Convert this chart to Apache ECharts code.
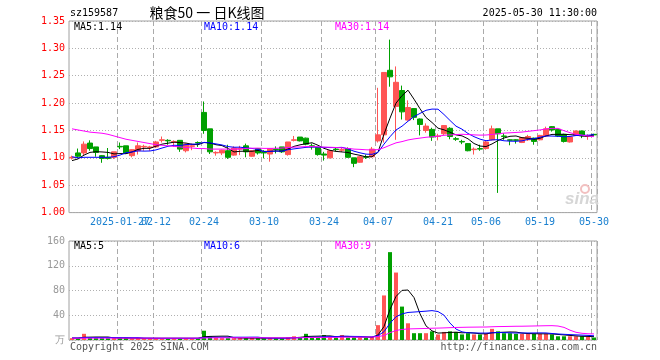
<!DOCTYPE html>
<html><head><meta charset="utf-8">
<script src="https://cdn.jsdelivr.net/npm/echarts@6/dist/echarts.min.js"></script>
<style>html,body{margin:0;padding:0;background:#fff}#c{width:660px;height:360px}</style>
</head><body><div id="c"></div>
<script>
const dates = ['2025-01-15','2025-01-16','2025-01-17','2025-01-20','2025-01-21','2025-01-22','2025-01-23','2025-01-24','2025-01-27',
'2025-02-05','2025-02-06','2025-02-07','2025-02-10','2025-02-11','2025-02-12','2025-02-13','2025-02-14','2025-02-17','2025-02-18','2025-02-19','2025-02-20','2025-02-21','2025-02-24','2025-02-25','2025-02-26','2025-02-27','2025-02-28',
'2025-03-03','2025-03-04','2025-03-05','2025-03-06','2025-03-07','2025-03-10','2025-03-11','2025-03-12','2025-03-13','2025-03-14','2025-03-17','2025-03-18','2025-03-19','2025-03-20','2025-03-21','2025-03-24','2025-03-25','2025-03-26','2025-03-27','2025-03-28','2025-03-31',
'2025-04-01','2025-04-02','2025-04-03','2025-04-07','2025-04-08','2025-04-09','2025-04-10','2025-04-11','2025-04-14','2025-04-15','2025-04-16','2025-04-17','2025-04-18','2025-04-21','2025-04-22','2025-04-23','2025-04-24','2025-04-25','2025-04-28','2025-04-29','2025-04-30',
'2025-05-06','2025-05-07','2025-05-08','2025-05-09','2025-05-12','2025-05-13','2025-05-14','2025-05-15','2025-05-16','2025-05-19','2025-05-20','2025-05-21','2025-05-22','2025-05-23','2025-05-26','2025-05-27','2025-05-28','2025-05-29','2025-05-30'];

const opens = [1.100,1.109,1.109,1.127,1.120,1.104,1.101,1.101,1.121,1.122,
1.104,1.113,1.120,1.119,1.120,1.132,1.132,1.129,1.132,1.113,
1.121,1.128,1.183,1.153,1.109,1.109,1.113,1.105,1.116,1.122,
1.103,1.117,1.110,1.107,1.116,1.120,1.106,1.132,1.138,1.136,
1.122,1.119,1.107,1.100,1.116,1.114,1.117,1.100,1.092,1.102,
1.102,1.131,1.142,1.260,1.194,1.223,1.169,1.190,1.171,1.150,
1.152,1.139,1.144,1.154,1.135,1.130,1.126,1.115,1.117,1.117,
1.133,1.153,1.140,1.133,1.133,1.128,1.133,1.136,1.133,1.140,
1.157,1.152,1.143,1.129,1.141,1.149,1.139,1.143];

const closes = [1.101,1.103,1.125,1.117,1.110,1.099,1.099,1.111,1.120,1.109,
1.115,1.122,1.121,1.120,1.129,1.133,1.131,1.130,1.116,1.125,
1.122,1.127,1.150,1.111,1.110,1.114,1.101,1.118,1.117,1.111,
1.113,1.109,1.109,1.117,1.115,1.111,1.129,1.133,1.131,1.125,
1.120,1.106,1.105,1.113,1.115,1.115,1.101,1.090,1.102,1.101,
1.116,1.142,1.256,1.248,1.238,1.184,1.192,1.174,1.161,1.158,
1.138,1.140,1.159,1.139,1.134,1.129,1.113,1.116,1.116,1.129,
1.153,1.144,1.139,1.132,1.132,1.137,1.139,1.130,1.141,1.153,
1.151,1.140,1.130,1.138,1.149,1.141,1.140,1.142];

const lows = [1.097,1.099,1.105,1.113,1.102,1.091,1.097,1.098,1.116,1.107,
1.101,1.106,1.113,1.113,1.118,1.128,1.124,1.120,1.111,1.110,
1.114,1.120,1.144,1.107,1.104,1.105,1.098,1.104,1.105,1.101,
1.102,1.106,1.099,1.093,1.108,1.109,1.104,1.130,1.130,1.123,
1.115,1.104,1.095,1.099,1.112,1.111,1.100,1.083,1.091,1.098,
1.101,1.128,1.128,1.230,1.133,1.170,1.168,1.169,1.141,1.146,
1.131,1.132,1.142,1.134,1.131,1.125,1.112,1.106,1.113,1.115,
1.132,1.036,1.133,1.123,1.126,1.127,1.131,1.124,1.132,1.139,
1.148,1.138,1.128,1.128,1.140,1.136,1.133,1.141];

const highs = [1.104,1.117,1.130,1.132,1.120,1.105,1.118,1.111,1.128,1.122,
1.116,1.128,1.124,1.122,1.131,1.139,1.134,1.132,1.132,1.126,
1.126,1.130,1.203,1.153,1.112,1.115,1.124,1.121,1.122,1.126,
1.114,1.118,1.114,1.118,1.121,1.120,1.129,1.140,1.138,1.137,
1.126,1.120,1.111,1.114,1.119,1.118,1.119,1.100,1.103,1.106,
1.120,1.228,1.256,1.316,1.267,1.232,1.205,1.191,1.172,1.163,
1.155,1.144,1.160,1.156,1.138,1.133,1.127,1.119,1.124,1.131,
1.159,1.153,1.145,1.134,1.134,1.138,1.142,1.137,1.142,1.157,
1.158,1.153,1.144,1.139,1.150,1.150,1.143,1.144];

const volumes = [3,3,10,4,4,3,3,3,3,3,
2,3,3,3,3,2,3,3,3,3,
2,3,15,6,4,3,3,3,3,3,
3,3,3,3,3,3,4,6,5,10,
5,5,8,5,4,8,4,4,4,4,
5,24,72,142,109,54,27,11,11,11,
14,9,13,14,13,9,11,9,9,11,
18,14,11,11,10,10,10,10,10,10,
9,6,6,6,6,6,5,4];

// moving-average values for the first days (window reaches before the shown range)
const ma5Lead = [1.095,1.098,1.105,1.110];
const ma10Lead = [1.102,1.100,1.101,1.101,1.101,1.101,1.101,1.102,1.105];
const ma30Lead = [1.153,1.151,1.149,1.147,1.146,1.145,1.143,1.140,1.137,1.134,1.132,1.130,1.128,1.126,1.124,1.123,1.122,1.121,1.120,1.119,1.118,1.117,1.117,1.116,1.116,1.116,1.116,1.116,1.116];
const volMa5Lead = [3.0,3.0,4.4,4.6];
const volMa10Lead = [3.3,3.3,4.0,4.0,4.0,4.0,4.0,3.9,3.9];
const volMa30Lead = [2.9,2.9,3.0,3.0,3.0,3.0,3.0,3.0,3.0,3.0,3.0,3.0,3.0,3.0,3.0,3.0,3.0,3.0,3.0,3.0,3.0,3.0,3.3,3.4,3.5,3.5,3.5,3.6,3.6];

const tickDates = ['2025-01-27','2025-02-12','2025-02-24','2025-03-10','2025-03-24','2025-04-07','2025-04-21','2025-05-06','2025-05-19','2025-05-30'];
const priceMin = 1.00, priceMax = 1.35, priceStep = 0.05;
const volMin = 0, volMax = 160, volStep = 40;

function movingAvg(vals, n, lead) {
  return vals.map((v, i) => {
    if (i < lead.length) return lead[i];
    let s = 0; for (let j = i - n + 1; j <= i; j++) s += vals[j];
    return +(s / n).toFixed(4);
  });
}
const ma5 = movingAvg(closes, 5, ma5Lead);
const ma10 = movingAvg(closes, 10, ma10Lead);
const ma30 = movingAvg(closes, 30, ma30Lead);
const vma5 = movingAvg(volumes, 5, volMa5Lead);
const vma10 = movingAvg(volumes, 10, volMa10Lead);
const vma30 = movingAvg(volumes, 30, volMa30Lead);
const last = dates.length - 1;

const UP = '#ff5555', DOWN = '#00a000';
const MONO = '"DejaVu Sans Mono", monospace';
const kData = opens.map((o, i) => [o, closes[i], lows[i], highs[i]]);
const isTick = (idx, val) => tickDates.indexOf(val) >= 0;
const isLaterTick = (idx, val) => tickDates.indexOf(val) > 0;
const isFirstTick = (idx, val) => val === tickDates[0];

const chart = echarts.init(document.getElementById('c'));
const vSplit = {show: true, interval: isTick, lineStyle: {color: '#aaaaaa', type: [5, 3], width: 1}};
const hSplit = {show: true, lineStyle: {color: '#b0b0b0', type: [1, 2], width: 1}};
const labelStyle = {color: '#1a80d0', fontFamily: MONO, fontSize: 10, margin: 5, hideOverlap: false};
const lineSeries = (name, data, color, xi, yi) => ({
  name, type: 'line', data, xAxisIndex: xi, yAxisIndex: yi, symbol: 'none', showSymbol: false,
  lineStyle: {color, width: 1}, itemStyle: {color}, z: 5, silent: true
});
const txt = (text, x, y, fill, font, align) => ({
  type: 'text', silent: true, z: 100,
  style: {text, x, y, fill, font, align: align || 'left', verticalAlign: 'middle'}
});

chart.setOption({
  animation: false,
  backgroundColor: '#ffffff',
  grid: [
    {left: 69, top: 21, width: 528, height: 191.6, show: true, borderColor: '#a0a0a0', borderWidth: 1},
    {left: 69, top: 241, width: 528, height: 99, show: true, borderColor: '#a0a0a0', borderWidth: 1}
  ],
  xAxis: [
    {type: 'category', gridIndex: 0, data: dates, boundaryGap: true,
     axisLine: {show: false}, axisTick: {show: false},
     axisLabel: Object.assign({interval: isLaterTick, formatter: v => v.slice(5)}, labelStyle),
     splitLine: vSplit},
    {type: 'category', gridIndex: 1, data: dates, boundaryGap: true,
     axisLine: {show: false}, axisTick: {show: false}, axisLabel: {show: false},
     splitLine: vSplit},
    {type: 'category', gridIndex: 0, data: dates, boundaryGap: true, position: 'bottom',
     axisLine: {show: false}, axisTick: {show: false}, splitLine: {show: false},
     axisLabel: Object.assign({interval: isFirstTick, formatter: v => v}, labelStyle)}
  ],
  yAxis: [
    {type: 'value', gridIndex: 0, min: priceMin, max: priceMax, interval: priceStep,
     axisLine: {show: false}, axisTick: {show: false},
     axisLabel: {color: '#ff0000', fontFamily: MONO, fontSize: 10, margin: 4, formatter: v => v.toFixed(2)},
     splitLine: hSplit},
    {type: 'value', gridIndex: 1, min: volMin, max: volMax, interval: volStep,
     axisLine: {show: false}, axisTick: {show: false},
     axisLabel: {color: '#999999', fontFamily: MONO, fontSize: 10, margin: 4, formatter: v => v === 0 ? '万' : String(v)},
     splitLine: hSplit}
  ],
  series: [
    {type: 'candlestick', data: kData, xAxisIndex: 0, yAxisIndex: 0, barWidth: 5, silent: true, z: 3,
     itemStyle: {color: UP, color0: DOWN, borderColor: UP, borderColor0: DOWN, borderWidth: 1}},
    lineSeries('MA5', ma5, '#000000', 0, 0),
    lineSeries('MA10', ma10, '#0000ff', 0, 0),
    lineSeries('MA30', ma30, '#ff00ff', 0, 0),
    {type: 'bar', data: volumes.map((v, i) => ({value: v, itemStyle: {color: closes[i] > opens[i] ? UP : DOWN}})),
     xAxisIndex: 1, yAxisIndex: 1, barWidth: 4, silent: true, z: 3},
    lineSeries('VMA5', vma5, '#000000', 1, 1),
    lineSeries('VMA10', vma10, '#0000ff', 1, 1),
    lineSeries('VMA30', vma30, '#ff00ff', 1, 1)
  ],
  graphic: [
    txt('sz159587', 70, 13, '#000', '10px ' + MONO),
    txt('粮食50 一 日K线图', 207, 13, '#000', '14px "Noto Sans CJK SC"', 'center'),
    txt('2025-05-30 11:30:00', 597, 13, '#000', '10px ' + MONO, 'right'),
    txt('MA5:' + ma5[last].toFixed(2), 74, 27, '#000000', '10px ' + MONO),
    txt('MA10:' + ma10[last].toFixed(2), 204, 27, '#0000ff', '10px ' + MONO),
    txt('MA30:' + ma30[last].toFixed(2), 335, 27, '#ff00ff', '10px ' + MONO),
    txt('MA5:' + Math.floor(vma5[last]), 74, 246, '#000000', '10px ' + MONO),
    txt('MA10:' + Math.floor(vma10[last]), 204, 246, '#0000ff', '10px ' + MONO),
    txt('MA30:' + Math.floor(vma30[last]), 335, 246, '#ff00ff', '10px ' + MONO),
    txt('Copyright 2025 SINA.COM', 70, 347, '#555555', '10px ' + MONO),
    txt('http://finance.sina.com.cn', 597, 347, '#555555', '10px ' + MONO, 'right'),
    {type: 'circle', silent: true, z: 1, shape: {cx: 585, cy: 189, r: 4}, style: {fill: 'none', stroke: '#f2c0c0', lineWidth: 2}},
    txt('sina', 582, 199, '#d6d6d6', 'italic bold 17px "Liberation Sans"', 'center')
  ]
});
</script>
</body></html>
